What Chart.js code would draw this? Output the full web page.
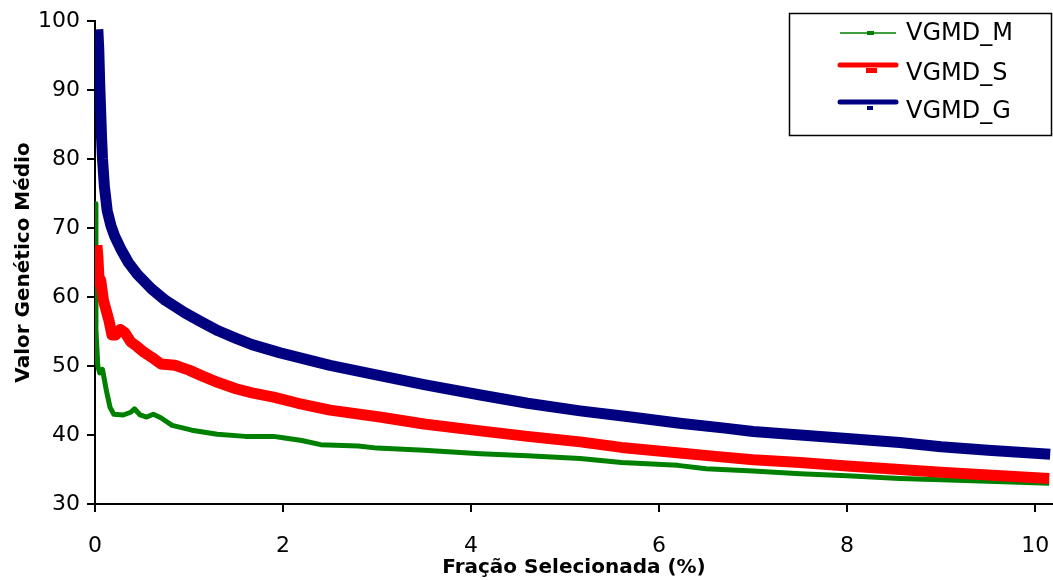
<!DOCTYPE html>
<html><head><meta charset="utf-8">
<script src="https://cdn.jsdelivr.net/npm/chart.js@4"></script>
<style>html,body{margin:0;padding:0;background:#fff;overflow:hidden}</style>
</head><body>
<canvas id="c" width="1053" height="580"></canvas>
<script>
const seriesLabels = ['VGMD_M', 'VGMD_S', 'VGMD_G'];
const xTickValues = [0, 2, 4, 6, 8, 10];
const yTickValues = [30, 40, 50, 60, 70, 80, 90, 100];

const mX = [0.005, 0.01, 0.03, 0.05, 0.08, 0.1, 0.12, 0.16, 0.2, 0.3, 0.38, 0.42, 0.48, 0.55, 0.62, 0.7, 0.82, 1.03, 1.3, 1.6, 1.9, 2.0, 2.2, 2.4, 2.8, 3.0, 3.5, 4.1, 4.6, 5.16, 5.6, 6.2, 6.5, 7.0, 7.5, 8.0, 8.56, 9.0, 9.5, 10.15];
const mY = [73.5, 55.2, 50.0, 49.0, 49.5, 48.0, 46.5, 44.0, 43.0, 42.9, 43.3, 43.8, 42.9, 42.6, 43.0, 42.5, 41.4, 40.7, 40.1, 39.8, 39.8, 39.6, 39.2, 38.6, 38.4, 38.1, 37.8, 37.3, 37.0, 36.6, 36.0, 35.6, 35.1, 34.8, 34.4, 34.1, 33.7, 33.5, 33.3, 33.0];

const sX = [0.02, 0.03, 0.045, 0.06, 0.07, 0.09, 0.12, 0.15, 0.18, 0.22, 0.27, 0.32, 0.38, 0.45, 0.52, 0.6, 0.7, 0.85, 1.0, 1.15, 1.31, 1.5, 1.67, 1.9, 2.16, 2.5, 3.03, 3.5, 4.1, 4.6, 5.16, 5.6, 6.22, 6.6, 7.0, 7.5, 8.0, 8.56, 9.0, 9.5, 10.15];
const sY = [67.5, 66.0, 62.0, 62.5, 61.5, 59.5, 58.0, 56.5, 54.5, 54.5, 55.3, 54.8, 53.5, 52.8, 52.0, 51.3, 50.3, 50.1, 49.4, 48.5, 47.6, 46.7, 46.1, 45.5, 44.6, 43.6, 42.6, 41.6, 40.6, 39.8, 39.0, 38.2, 37.4, 36.9, 36.4, 36.0, 35.5, 35.0, 34.6, 34.2, 33.7];

const gX = [0.03, 0.04, 0.05, 0.06, 0.07, 0.08, 0.1, 0.13, 0.17, 0.21, 0.28, 0.355, 0.45, 0.6, 0.75, 0.957, 1.13, 1.31, 1.5, 1.67, 1.97, 2.5, 3.03, 3.5, 4.1, 4.6, 5.16, 5.7, 6.22, 6.7, 7.0, 7.5, 8.0, 8.56, 9.0, 9.5, 10.16];
const gY = [98.8, 96.0, 91.0, 87.0, 83.0, 80.0, 76.0, 72.5, 70.3, 68.8, 66.8, 65.0, 63.3, 61.2, 59.5, 57.7, 56.4, 55.1, 54.0, 53.1, 51.9, 50.1, 48.6, 47.3, 45.8, 44.6, 43.5, 42.6, 41.7, 41.0, 40.5, 40.0, 39.5, 38.9, 38.3, 37.8, 37.2];

const pts = (xs, ys) => xs.map((x, i) => ({x, y: ys[i]}));

const legendSpec = [
  {lineY: 33, lw: 1.5, cap: 'butt', mk: [867, 31, 7, 4], textY: 34},
  {lineY: 65, lw: 5, cap: 'round', mk: [866, 68, 11, 5], textY: 74},
  {lineY: 102, lw: 5, cap: 'round', mk: [867, 106, 6, 4], textY: 112}
];

const boxLegend = {
  id: 'boxLegend',
  afterDraw(chart) {
    const ctx = chart.ctx;
    ctx.save();
    ctx.fillStyle = '#fff';
    ctx.fillRect(789, 13, 262, 122);
    ctx.strokeStyle = '#000';
    ctx.lineWidth = 1.5;
    ctx.strokeRect(789.5, 13.5, 262, 122);
    chart.data.datasets.forEach((ds, i) => {
      const s = legendSpec[i];
      ctx.strokeStyle = ds.borderColor;
      ctx.lineWidth = s.lw;
      ctx.lineCap = s.cap;
      ctx.beginPath();
      ctx.moveTo(840, s.lineY);
      ctx.lineTo(896, s.lineY);
      ctx.stroke();
      ctx.fillStyle = ds.borderColor;
      ctx.fillRect(s.mk[0], s.mk[1], s.mk[2], s.mk[3]);
      ctx.fillStyle = '#000';
      ctx.font = '24px "DejaVu Sans"';
      ctx.textBaseline = 'middle';
      ctx.textAlign = 'left';
      ctx.fillText(ds.label, 906, s.textY);
    });
    ctx.restore();
  }
};

new Chart(document.getElementById('c'), {
  type: 'line',
  data: {
    datasets: [
      {label: seriesLabels[0], data: pts(mX, mY), borderColor: '#008000', backgroundColor: '#008000', borderWidth: 5, order: 3},
      {label: seriesLabels[1], data: pts(sX, sY), borderColor: '#FF0000', backgroundColor: '#FF0000', borderWidth: 11, order: 2},
      {label: seriesLabels[2], data: pts(gX, gY), borderColor: '#000080', backgroundColor: '#000080', borderWidth: 11, order: 1}
    ]
  },
  options: {
    responsive: false,
    animation: false,
    devicePixelRatio: 1,
    layout: {padding: {top: 21, right: 0, left: 0, bottom: 0}},
    elements: {
      point: {radius: 0, hoverRadius: 0},
      line: {tension: 0, borderJoinStyle: 'round', borderCapStyle: 'butt', fill: false}
    },
    plugins: {legend: {display: false}, tooltip: {enabled: false}},
    scales: {
      x: {
        type: 'linear', min: 0, max: 10.19,
        afterBuildTicks: s => { s.ticks = xTickValues.map(v => ({value: v})); },
        afterFit: s => { s.height = 76; s.paddingRight = 0; s.paddingLeft = 0; },
        border: {color: '#000', width: 2},
        grid: {display: true, drawOnChartArea: false, drawTicks: true, tickLength: 8, color: '#000', lineWidth: 2},
        ticks: {color: '#000', font: {family: 'DejaVu Sans', size: 22}, padding: 21, maxRotation: 0},
        title: {display: true, text: 'Fração Selecionada (%)', color: '#000', font: {family: 'DejaVu Sans', size: 20, weight: 'bold'}, padding: {top: 0, bottom: 0}}
      },
      y: {
        type: 'linear', min: 30, max: 100,
        afterBuildTicks: s => { s.ticks = yTickValues.map(v => ({value: v})); },
        afterFit: s => { s.width = 95; },
        border: {color: '#000', width: 2},
        grid: {display: true, drawOnChartArea: false, drawTicks: true, tickLength: 8, color: '#000', lineWidth: 2},
        ticks: {color: '#000', font: {family: 'DejaVu Sans', size: 22}, padding: 7},
        title: {display: true, text: 'Valor Genético Médio', color: '#000', font: {family: 'DejaVu Sans', size: 20, weight: 'bold'}, padding: {top: 12, bottom: 0}}
      }
    }
  },
  plugins: [boxLegend]
});
</script>
</body></html>
